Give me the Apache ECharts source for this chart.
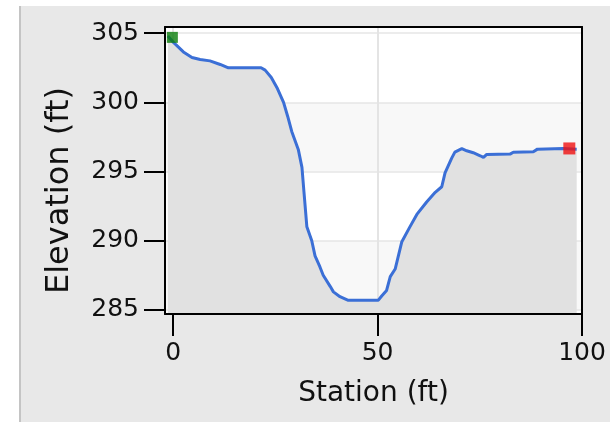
<!DOCTYPE html>
<html>
<head>
<meta charset="utf-8">
<script src="https://cdn.jsdelivr.net/npm/echarts@6/dist/echarts.min.js"></script>
<style>
  html, body { margin: 0; padding: 0; background: #ffffff; }
  #chart { width: 610px; height: 422px; }
</style>
</head>
<body>
<div id="chart"></div>
<script>
// Cross-section ground profile: station (ft) vs elevation (ft)
const station = [
  -1.3, 0.2, 2.5, 4.6, 6.6, 9.0, 11.5, 13.5, 21.5, 22.5,
  24.0, 25.5, 27.0, 28.0, 29.0, 30.6, 31.5, 32.0, 32.7, 33.9,
  34.7, 35.9, 36.7, 38.4, 39.2, 40.8, 42.7, 50.2, 51.0, 52.2,
  53.1, 54.3, 55.9, 57.9, 59.6, 62.0, 64.1, 65.7, 66.5, 68.1,
  68.9, 70.6, 71.8, 73.4, 75.1, 75.9, 76.7, 82.4, 83.2, 88.1,
  89.1, 95.4, 98.7
];
const elevation = [
  304.8, 304.3, 303.65, 303.25, 303.1, 303.0, 302.74, 302.5, 302.5, 302.33,
  301.8, 301.0, 300.0, 299.0, 297.9, 296.6, 295.3, 293.5, 291.0, 290.0,
  288.9, 288.1, 287.5, 286.7, 286.3, 285.95, 285.7, 285.7, 286.0, 286.4,
  287.4, 287.95, 289.9, 291.0, 291.9, 292.8, 293.5, 293.9, 294.9, 295.95,
  296.4, 296.65, 296.5, 296.36, 296.14, 296.02, 296.24, 296.26, 296.4, 296.43,
  296.62, 296.67, 296.62
];
// Left and right end markers
const leftMarker = [-0.2, 304.7];
const rightMarker = [96.9, 296.67];

const xTicks = [0, 50, 100];
const yTicks = [285, 290, 295, 300, 305];

const xRange = [-2, 100];
const yRange = [284.7, 305.45];

const profile = station.map((s, i) => [s, elevation[i]]);

const font = 'DejaVu Sans';
const edge = { show: true, onZero: false, lineStyle: { color: '#000', width: 2 } };
const chart = echarts.init(document.getElementById('chart'), null, { renderer: 'canvas' });

chart.setOption({
  backgroundColor: '#e8e8e8',
  animation: false,
  graphic: [
    { type: 'rect', shape: { x: 0, y: 0, width: 610, height: 6 }, style: { fill: '#ffffff' }, z: -1 },
    { type: 'rect', shape: { x: 0, y: 0, width: 19, height: 422 }, style: { fill: '#ffffff' }, z: -1 },
    { type: 'line', shape: { x1: 20, y1: 6, x2: 20, y2: 422 }, style: { stroke: '#c4c4c4', lineWidth: 2 }, z: -1 }
  ],
  grid: {
    left: 165, top: 27, right: 28, bottom: 108,
    show: true,
    backgroundColor: '#ffffff',
    borderWidth: 0
  },
  xAxis: [{
    // bottom axis: frame edge, ticks, labels and title, drawn above the ground fill
    type: 'value',
    position: 'bottom',
    z: 10,
    min: xRange[0], max: xRange[1],
    name: 'Station (ft)',
    nameLocation: 'middle',
    nameGap: 66,
    nameTextStyle: { fontFamily: font, fontSize: 28, color: '#111' },
    axisLine: edge,
    axisTick: { show: true, inside: false, length: 22, customValues: xTicks, lineStyle: { color: '#000', width: 2 } },
    axisLabel: { customValues: xTicks, margin: 27, fontFamily: font, fontSize: 25, color: '#111' },
    splitLine: { show: false }
  }, {
    // top axis: frame edge and vertical gridlines, drawn beneath the fill
    type: 'value',
    position: 'top',
    z: 0,
    min: xRange[0], max: xRange[1],
    axisLine: edge,
    axisTick: { show: false, customValues: xTicks },
    axisLabel: { show: false, customValues: xTicks },
    splitLine: { show: true, lineStyle: { color: '#e4e4e4', width: 2 } }
  }],
  yAxis: [{
    type: 'value',
    position: 'left',
    z: 10,
    min: yRange[0], max: yRange[1],
    name: 'Elevation (ft)',
    nameLocation: 'middle',
    nameGap: 89,
    nameTextStyle: { fontFamily: font, fontSize: 32, color: '#111', padding: [0, 40, 0, 0] },
    axisLine: edge,
    axisTick: { show: true, inside: false, length: 21, customValues: yTicks, lineStyle: { color: '#000', width: 2 } },
    axisLabel: { customValues: yTicks, margin: 26, fontFamily: font, fontSize: 25, color: '#111' },
    splitLine: { show: false },
    splitArea: { show: false }
  }, {
    type: 'value',
    position: 'right',
    z: 0,
    min: yRange[0], max: yRange[1],
    axisLine: edge,
    axisTick: { show: false, customValues: yTicks },
    axisLabel: { show: false, customValues: yTicks },
    splitLine: { show: true, lineStyle: { color: '#e6e6e6', width: 1.5 } },
    splitArea: { show: true, areaStyle: { color: ['#f8f8f8', '#ffffff'] } }
  }],
  series: [
    {
      type: 'line',
      data: profile,
      symbol: 'none',
      lineStyle: { color: '#3b6fd6', width: 3 },
      areaStyle: { color: '#e1e1e1', opacity: 1 },
      z: 2
    },
    {
      type: 'scatter',
      data: [leftMarker],
      symbol: 'rect',
      symbolSize: 11,
      itemStyle: { color: '#0a7d0a' },
      z: 3
    },
    {
      type: 'scatter',
      data: [rightMarker],
      symbol: 'rect',
      symbolSize: 12,
      itemStyle: { color: '#f01010' },
      z: 3
    }
  ]
});
</script>
</body>
</html>
